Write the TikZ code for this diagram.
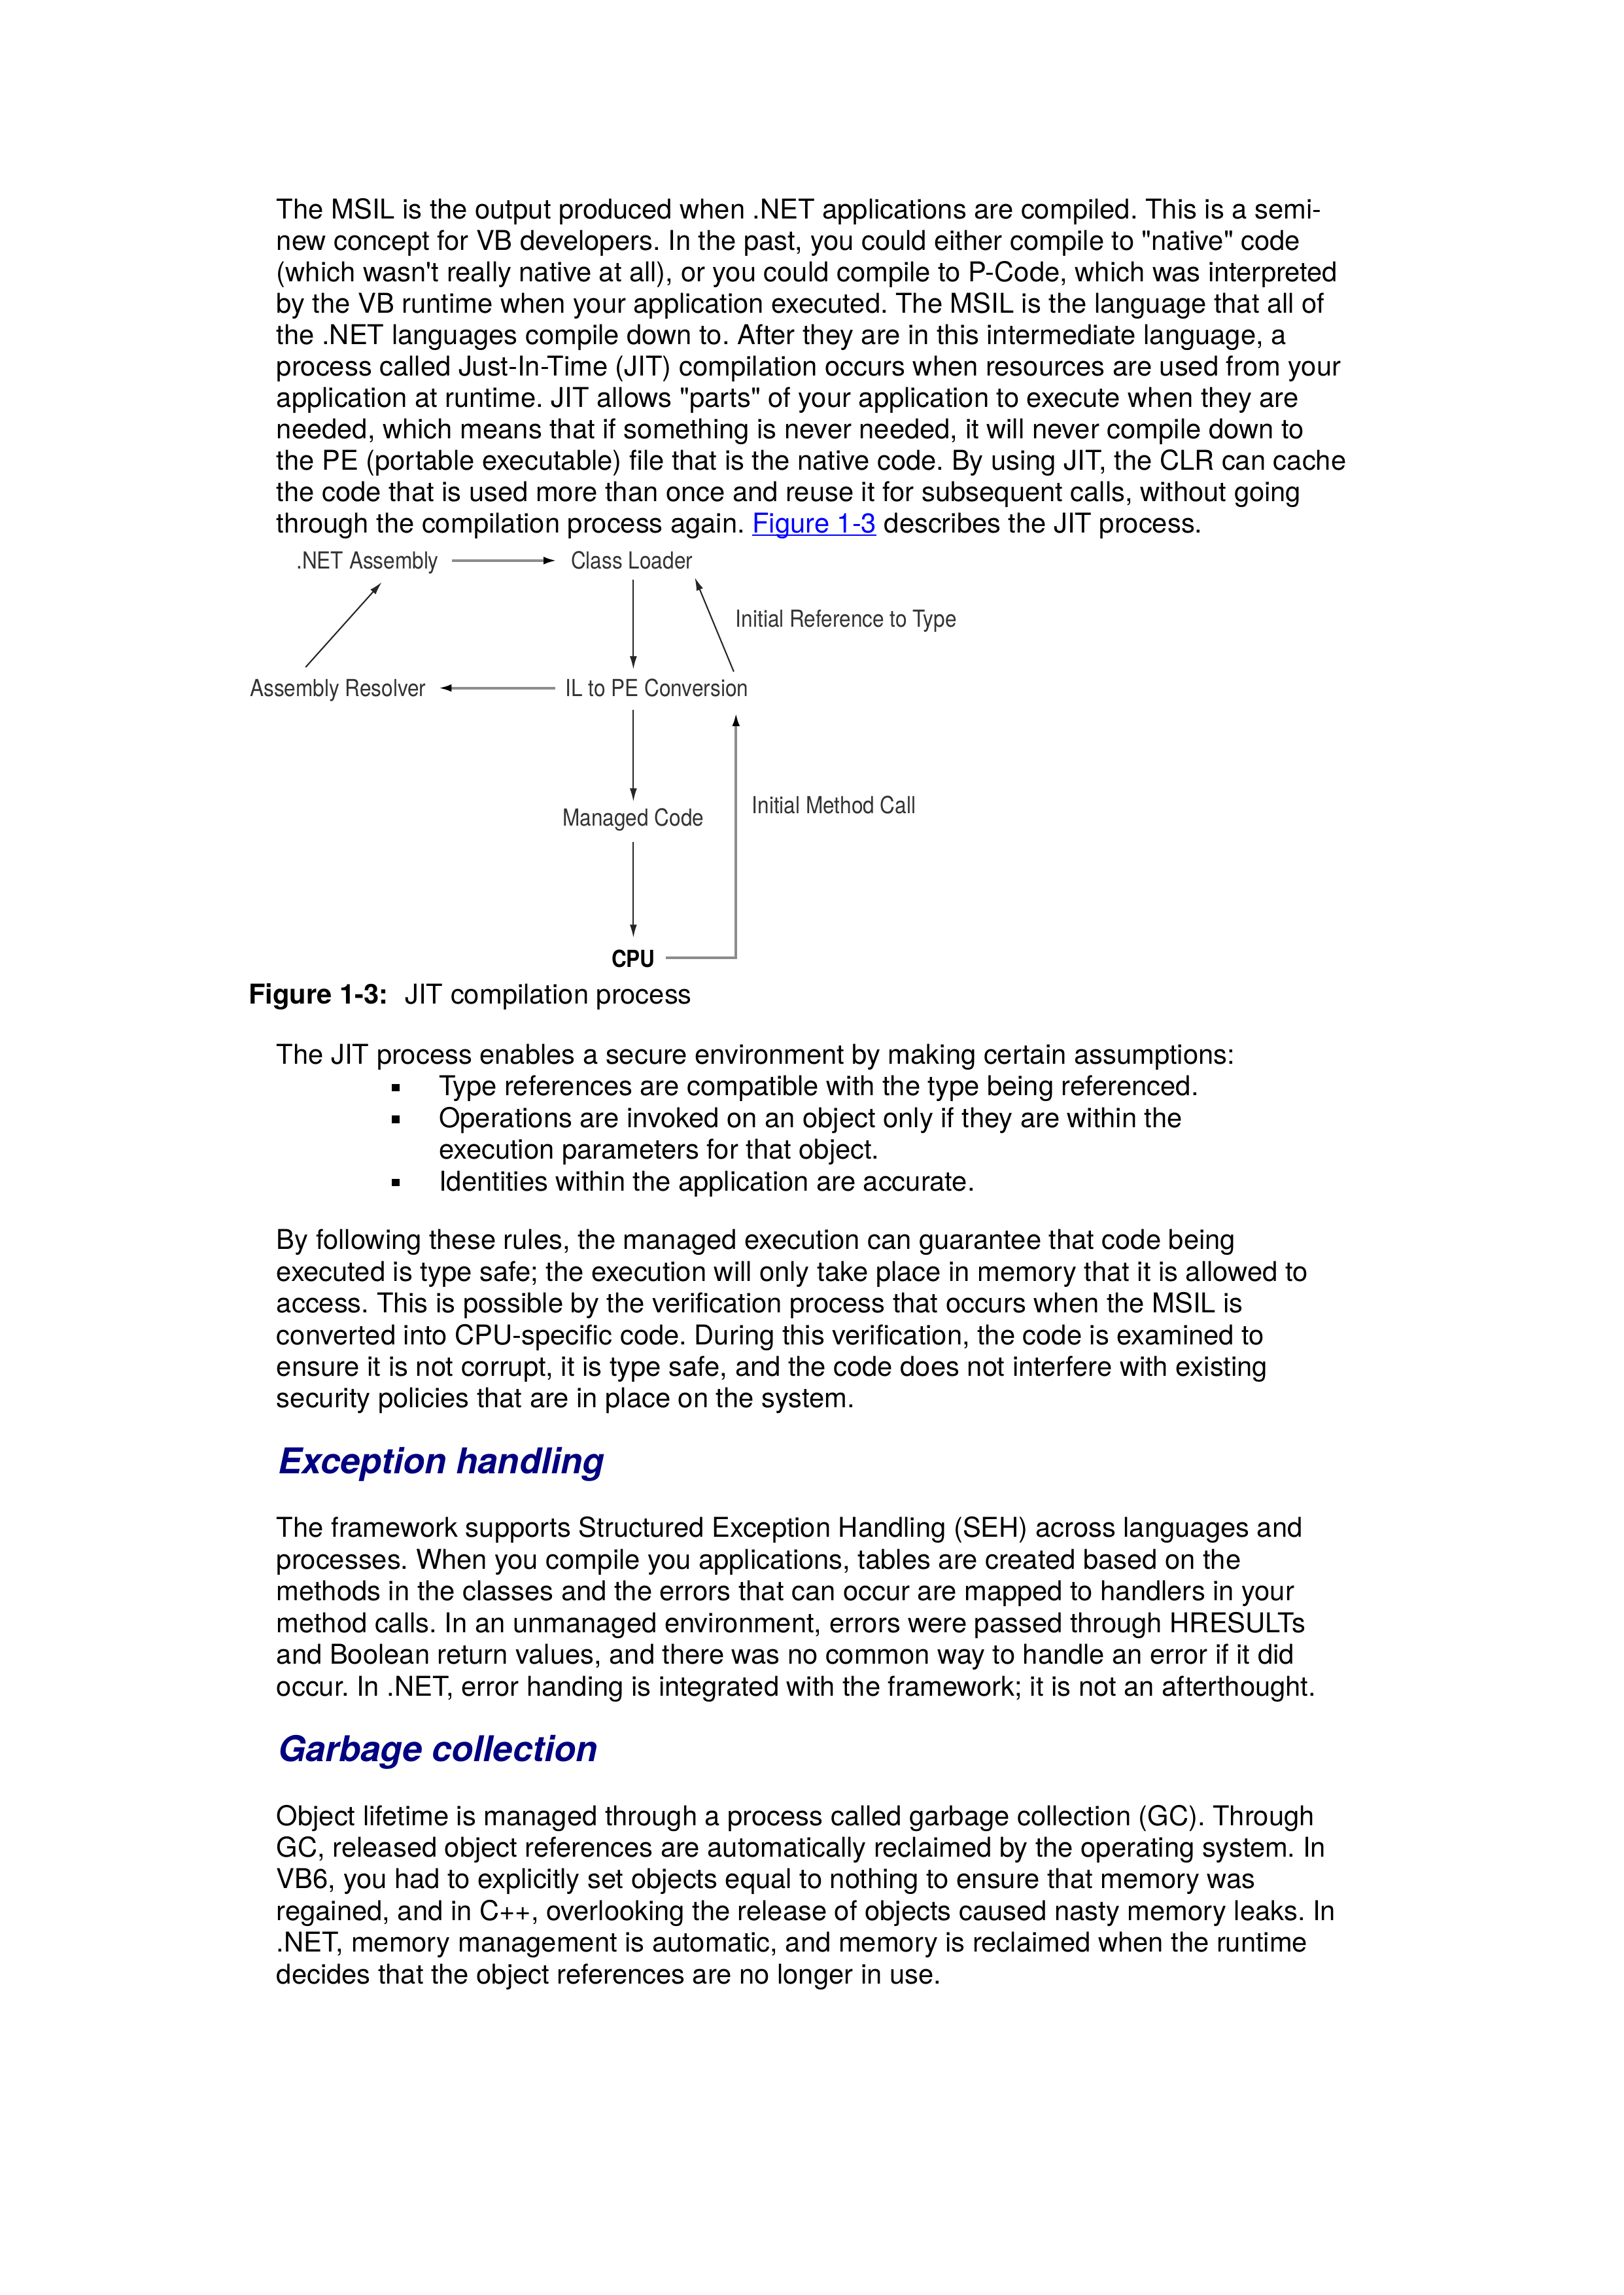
\documentclass[tikz,border=0pt]{standalone}
\usepackage{fontspec}
\setmainfont{TeX Gyre Heros}[Ligatures=TeXOff]
\newfontfamily\diagfont[FakeStretch=0.88]{TeX Gyre Heros}
\usetikzlibrary{arrows.meta,calc}
\definecolor{headblue}{RGB}{0,0,128}
\definecolor{linkblue}{RGB}{0,0,255}
\newcommand\ulink[1]{\textcolor{linkblue}{\setbox0\hbox{#1}\rlap{\rule[-1.1pt]{\wd0}{0.45pt}}\box0}}
\begin{document}
\frenchspacing
\begin{tikzpicture}[x=0.5409pt,y=-0.5409pt,
  body/.style={anchor=base west, inner sep=0pt, font=\fontsize{10}{12}\selectfont\frenchspacing},
  head/.style={anchor=base west, inner sep=0pt, text=headblue, font=\fontsize{13}{15}\selectfont\bfseries\itshape},
  lbl/.style={anchor=base, inner sep=0pt, text=black!80, font=\diagfont\fontsize{8.6}{10}\selectfont},
  lblw/.style={lbl, anchor=base west},
  thinarr/.style={draw=black!85, line width=0.5pt, -{Latex[length=4.8pt,width=2.6pt]}},
  grayarr/.style={draw=black!45, line width=0.9pt, -{Latex[length=4.8pt,width=2.8pt,color=black]}},
  bul/.style={fill=black, inner sep=0pt, minimum size=2.8pt}]
\fill[white] (0,0) rectangle (1100,1554.1);
\useasboundingbox (0,0) rectangle (1100,1554.1);

% ---- paragraph 1
\node[body] (p1a) at (187,148.0) {The MSIL is the output produced when .NET applications are compiled. This is a semi-};
\node[body] (p1b) at (187,169.3) {new concept for VB developers. In the past, you could either compile to "native" code};
\node[body] (p1c) at (187,190.6) {(which wasn't really native at all), or you could compile to P-Code, which was interpreted};
\node[body] (p1d) at (187,211.9) {by the VB runtime when your application executed. The MSIL is the language that all of};
\node[body] (p1e) at (187,233.2) {the .NET languages compile down to. After they are in this intermediate language, a};
\node[body] (p1f) at (187,254.4) {process called Just-In-Time (JIT) compilation occurs when resources are used from your};
\node[body] (p1g) at (187,275.7) {application at runtime. JIT allows "parts" of your application to execute when they are};
\node[body] (p1h) at (187,297.0) {needed, which means that if something is never needed, it will never compile down to};
\node[body] (p1i) at (187,318.3) {the PE (portable executable) file that is the native code. By using JIT, the CLR can cache};
\node[body] (p1j) at (187,339.6) {the code that is used more than once and reuse it for subsequent calls, without going};
\node[body] (p1k) at (187,360.8) {through the compilation process again. \ulink{Figure 1-3} describes the JIT process.};

% ---- diagram
\node[lbl] (asm) at (249,385) {.NET Assembly};
\node[lbl] (cl) at (428,385) {Class Loader};
\node[lblw] (irt) at (498,424.5) {Initial Reference to Type};
\node[lbl] (ar) at (229,471.8) {Assembly Resolver};
\node[lbl] (ilpe) at (445,471.8) {IL to PE Conversion};
\node[lbl] (mc) at (429,559.5) {Managed Code};
\node[lblw] (imc) at (509,551) {Initial Method Call};
\node[lbl, font=\diagfont\fontsize{8.6}{10}\selectfont\bfseries, text=black] (cpu) at (429,655) {CPU};

\draw[grayarr] ($(asm.base east)+(8.7,-5.4)$) -- ($(cl.base west)+(-9.3,-5.4)$);
\draw[grayarr] ($(ilpe.base west)+(-6.5,-5.9)$) -- ($(ar.base east)+(8,-5.9)$);
\draw[thinarr] ($(mc.base |- cl.base)+(0,7.4)$) -- ($(mc.base |- ilpe.base)+(0,-18.5)$);
\draw[thinarr] ($(mc.base |- ilpe.base)+(0,9)$) -- ($(mc.base)+(0,-16.7)$);
\draw[thinarr] ($(mc.base)+(0,10.6)$) -- ($(mc.base |- cpu.base)+(0,-20)$);
\draw[thinarr] ($(ar.base)+(-22,-20)$) -- ($(asm.base)+(9.6,9.2)$);
\draw[thinarr] ($(ilpe.base)+(52,-17)$) -- ($(cl.base east)+(1,6)$);
\draw[grayarr] ($(cpu.base east)+(7,-6.3)$) -| ($(ilpe.base)+(53.5,11)$);

% ---- caption
\node[body] (cap) at (168,680) {\bfseries Figure 1-3:\mdseries\hspace{6.2pt}JIT compilation process};

% ---- paragraph 2 with bullets
\node[body] (p2a) at (187,720.5) {The JIT process enables a secure environment by making certain assumptions:};
\node[bul] (b1) at (268,736.5) {};
\node[body] (p2b) at (297,742.0) {Type references are compatible with the type being referenced.};
\node[bul] (b2) at (268,757.9) {};
\node[body] (p2c) at (297,763.4) {Operations are invoked on an object only if they are within the};
\node[body] (p2d) at (297,784.8) {execution parameters for that object.};
\node[bul] (b3) at (268,800.8) {};
\node[body] (p2e) at (297,806.3) {Identities within the application are accurate.};

% ---- paragraph 3
\node[body] (p3a) at (187,846.0) {By following these rules, the managed execution can guarantee that code being};
\node[body] (p3b) at (187,867.5) {executed is type safe; the execution will only take place in memory that it is allowed to};
\node[body] (p3c) at (187,888.9) {access. This is possible by the verification process that occurs when the MSIL is};
\node[body] (p3d) at (187,910.4) {converted into CPU-specific code. During this verification, the code is examined to};
\node[body] (p3e) at (187,931.8) {ensure it is not corrupt, it is type safe, and the code does not interfere with existing};
\node[body] (p3f) at (187,953.3) {security policies that are in place on the system.};

% ---- Exception handling
\node[head] (h1) at (188,998) {Exception handling};
\node[body] (p4a) at (187,1041.0) {The framework supports Structured Exception Handling (SEH) across languages and};
\node[body] (p4b) at (187,1062.5) {processes. When you compile you applications, tables are created based on the};
\node[body] (p4c) at (187,1083.9) {methods in the classes and the errors that can occur are mapped to handlers in your};
\node[body] (p4d) at (187,1105.4) {method calls. In an unmanaged environment, errors were passed through HRESULTs};
\node[body] (p4e) at (187,1126.8) {and Boolean return values, and there was no common way to handle an error if it did};
\node[body] (p4f) at (187,1148.3) {occur. In .NET, error handing is integrated with the framework; it is not an afterthought.};

% ---- Garbage collection
\node[head] (h2) at (188,1193) {Garbage collection};
\node[body] (p5a) at (187,1236.0) {Object lifetime is managed through a process called garbage collection (GC). Through};
\node[body] (p5b) at (187,1257.5) {GC, released object references are automatically reclaimed by the operating system. In};
\node[body] (p5c) at (187,1278.9) {VB6, you had to explicitly set objects equal to nothing to ensure that memory was};
\node[body] (p5d) at (187,1300.4) {regained, and in C++, overlooking the release of objects caused nasty memory leaks. In};
\node[body] (p5e) at (187,1321.8) {.NET, memory management is automatic, and memory is reclaimed when the runtime};
\node[body] (p5f) at (187,1343.3) {decides that the object references are no longer in use.};
\end{tikzpicture}
\end{document}
